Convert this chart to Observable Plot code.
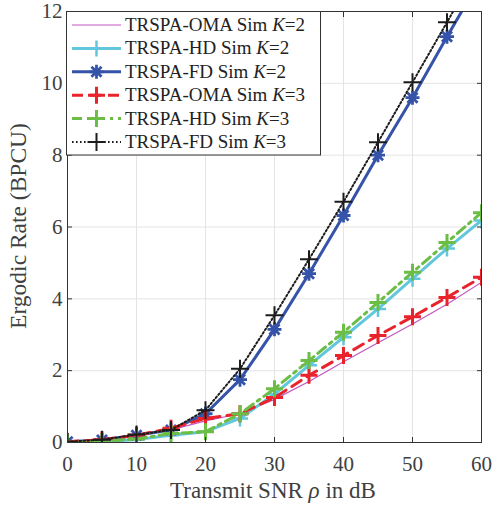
<!DOCTYPE html>
<html><head><meta charset="utf-8">
<script src="https://cdn.jsdelivr.net/npm/d3@7"></script>
<script src="https://cdn.jsdelivr.net/npm/@observablehq/plot@0.6"></script>
<style>body{margin:0;background:#fff}</style>
</head><body><div id="chart"></div>
<script>
const snr = [0,5,10,15,20,25,30,35,40,45,50,55,60];
const omaK2 = [0.02,0.07,0.2,0.35,0.6,0.8,1.2,1.7,2.25,2.78,3.3,3.85,4.46];
const hdK2  = [0.0,0.03,0.08,0.2,0.3,0.67,1.35,2.15,2.93,3.72,4.56,5.4,6.18];
const fdK2  = [0.02,0.07,0.2,0.35,0.8,1.75,3.15,4.7,6.32,8.0,9.6,11.3,12.95];
const omaK3 = [0.02,0.08,0.2,0.4,0.67,0.8,1.25,1.87,2.42,2.98,3.5,4.04,4.6];
const hdK3  = [0.0,0.03,0.1,0.25,0.3,0.8,1.5,2.28,3.07,3.9,4.74,5.57,6.4];
const fdK3  = [0.02,0.08,0.22,0.35,0.9,2.05,3.54,5.1,6.7,8.36,10.03,11.7,13.4];
const xTicks = [0,10,20,30,40,50,60];
const yTicks = [0,2,4,6,8,10,12];
const seriesNames = ["TRSPA-OMA Sim ","TRSPA-HD Sim ","TRSPA-FD Sim ","TRSPA-OMA Sim ","TRSPA-HD Sim ","TRSPA-FD Sim "];
const seriesK = ["2","2","2","3","3","3"];

const plusSym = {draw(ctx, size){const r=Math.sqrt(size/Math.PI);ctx.moveTo(-r,0);ctx.lineTo(r,0);ctx.moveTo(0,-r);ctx.lineTo(0,r);}};
const starSym = {draw(ctx, size){const r=Math.sqrt(size/Math.PI);const d=r*0.72;ctx.moveTo(-r,0);ctx.lineTo(r,0);ctx.moveTo(0,-r);ctx.lineTo(0,r);ctx.moveTo(-d,-d);ctx.lineTo(d,d);ctx.moveTo(-d,d);ctx.lineTo(d,-d);}};

const styles = [
  {vals: omaK2, color:"#c257c2", w:1.2, dash:null, sym:null},
  {vals: hdK2, color:"#62c6dc", w:3, dash:null, sym:plusSym, r:8, sw:2.5},
  {vals: fdK2, color:"#3553a8", w:3, dash:null, sym:starSym, r:7, sw:2.8},
  {vals: omaK3, color:"#e8232b", w:3, dash:"11,7", sym:plusSym, r:8.5, sw:3},
  {vals: hdK3, color:"#6cbd45", w:3, dash:"10,5,3,5", sym:plusSym, r:8.5, sw:3},
  {vals: fdK3, color:"#1c1c1c", w:2, dash:"1.6,2.4", sym:plusSym, r:9, sw:2}
];

const marks = [
  Plot.gridX(xTicks, {stroke:"#e4e4e4", strokeOpacity:1, strokeWidth:1}),
  Plot.gridY(yTicks, {stroke:"#e4e4e4", strokeOpacity:1, strokeWidth:1}),
];
styles.forEach(s => {
  const data = snr.map((x,i)=>({x, y:s.vals[i]}));
  marks.push(Plot.line(data, {x:"x", y:"y", stroke:s.color, strokeWidth:s.w, strokeDasharray:s.dash, clip:true}));
  if (s.sym) marks.push(Plot.dot(data, {x:"x", y:"y", symbol:s.sym, r:s.r, stroke:s.color, strokeWidth:s.sw, fill:"none", clip:true}));
});
marks.push(
  Plot.axisX({ticks:xTicks, tickSize:-5, tickPadding:19, stroke:"#333", label:null, fontSize:21}),
  Plot.axisX({anchor:"top", ticks:xTicks, tickSize:-5, tickFormat:()=>"", stroke:"#333", label:null}),
  Plot.axisY({ticks:yTicks, tickSize:-5, tickPadding:10, stroke:"#333", label:null, fontSize:21}),
  Plot.axisY({anchor:"right", ticks:yTicks, tickSize:-5, tickFormat:()=>"", stroke:"#333", label:null}),
  Plot.frame({stroke:"#333", strokeWidth:1})
);

const svg = Plot.plot({
  width:492, height:512,
  marginLeft:67, marginRight:11, marginTop:11, marginBottom:70,
  x:{domain:[0,60]}, y:{domain:[0,12]},
  style:{fontFamily:"'Liberation Serif', 'Times New Roman', serif", color:"#404040", background:"#fff", overflow:"visible"},
  marks
});
document.getElementById("chart").appendChild(svg);

const s = d3.select(svg);
// axis labels
s.append("text").attr("x", 273).attr("y", 498).attr("text-anchor","middle")
  .attr("font-size",23).attr("fill","#404040").attr("font-family","'Liberation Serif', serif")
  .call(t=>{t.append("tspan").text("Transmit SNR "); t.append("tspan").attr("font-style","italic").text("ρ"); t.append("tspan").text(" in dB");});
s.append("text").attr("transform","translate(26,226) rotate(-90)").attr("text-anchor","middle")
  .attr("font-size",23.5).attr("fill","#404040").attr("font-family","'Liberation Serif', serif")
  .text("Ergodic Rate (BPCU)");

// legend
const lg = s.append("g");
lg.append("rect").attr("x",66.5).attr("y",11.5).attr("width",254).attr("height",143.5).attr("fill","#fff").attr("stroke","#333").attr("stroke-width",1);
const sym = (symObj, r) => { const p = d3.path(); symObj.draw(p, r*r*Math.PI); return p.toString(); };
styles.forEach((st,i) => {
  const cy = 25 + i*23.4;
  lg.append("line").attr("x1",72).attr("x2",121).attr("y1",cy).attr("y2",cy)
    .attr("stroke",st.color).attr("stroke-width",st.w).attr("stroke-dasharray",st.dash);
  if (st.sym) lg.append("path").attr("transform",`translate(96.5,${cy})`).attr("d",sym(st.sym, st.r))
    .attr("stroke",st.color).attr("stroke-width",st.sw).attr("fill","none");
  const t = lg.append("text").attr("x",125).attr("y",cy+6).attr("font-size",19).attr("fill","#222")
    .attr("text-anchor","start").attr("font-family","'Liberation Serif', serif");
  t.append("tspan").text(seriesNames[i]);
  t.append("tspan").attr("font-style","italic").text("K");
  t.append("tspan").text("=" + seriesK[i]);
});
</script></body></html>
